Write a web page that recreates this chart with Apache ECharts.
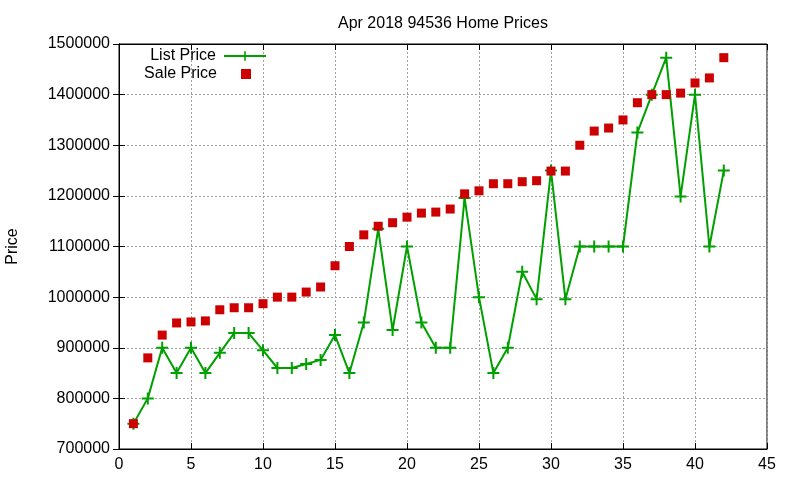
<!DOCTYPE html>
<html>
<head>
<meta charset="utf-8">
<script src="https://cdn.jsdelivr.net/npm/echarts@6/dist/echarts.min.js"></script>
<style>html,body{margin:0;padding:0;background:#fff}#c{width:800px;height:480px}</style>
</head>
<body>
<div id="c"></div>
<script>
var chartTitle = 'Apr 2018 94536 Home Prices';
var saleIndex = [1,2,3,4,5,6,7,8,9,10,11,12,13,14,15,16,17,18,19,20,21,22,23,24,25,26,27,28,29,30,31,32,33,34,35,36,37,38,39,40,41,42];
var listPrice = [750000,800000,900000,850000,900000,850000,890000,929000,929000,895000,860000,860000,868000,876000,925000,850000,950000,1135000,935000,1100000,950000,900000,900000,1196000,1000000,850000,900000,1050000,996000,1250000,996000,1100000,1100000,1100000,1100000,1325000,1400000,1473000,1199000,1400000,1100000,1250000];
var salePrice = [750000,880000,925000,949000,951000,953000,975000,979000,979000,987000,1000000,1000000,1010000,1020000,1062000,1100000,1123000,1140000,1147000,1158000,1166000,1168000,1174000,1204000,1210000,1224000,1224000,1228000,1230000,1249000,1249000,1300000,1328000,1334000,1350000,1384000,1400000,1400000,1403000,1423000,1433000,1473000];
var xTicks = {min: 0, max: 45, interval: 5};
var yTicks = {min: 700000, max: 1500000, interval: 100000};

var FONT = 'Liberation Sans, Arial, sans-serif';
var GREEN = '#00a000';
var RED = '#cc0000';
var listData = saleIndex.map(function (x, i) { return [x, listPrice[i]]; });
var saleData = saleIndex.map(function (x, i) { return [x, salePrice[i]]; });
var plus = 'path://M5,0h2v5h5v2h-5v5h-2v-5h-5v-2h5z';
var legendSquare = 'path://M0,0h0.01v0.01h-0.01zM16,0h10v10h-10zM41.99,9.99h0.01v0.01h-0.01z';

function axisCommon(extra) {
  var o = {
    type: 'value',
    axisLine: {show: true, lineStyle: {color: '#000', width: 1}},
    axisTick: {show: true, inside: true, length: 6, lineStyle: {color: '#000'}},
    splitLine: {show: false},
    axisLabel: {show: false}
  };
  for (var k in extra) o[k] = extra[k];
  return o;
}

var chart = echarts.init(document.getElementById('c'), null, {renderer: 'canvas'});
chart.setOption({
  animation: false,
  backgroundColor: '#fff',
  textStyle: {fontFamily: FONT},
  title: {
    text: chartTitle,
    left: 333, top: 11,
    textStyle: {fontFamily: FONT, fontSize: 16, fontWeight: 'normal', color: '#000'}
  },
  legend: [
    {
      data: ['List Price'], right: 533, top: 48, align: 'right', orient: 'vertical',
      itemWidth: 42, itemHeight: 12, padding: 0,
      textStyle: {fontFamily: FONT, fontSize: 16, color: '#000', padding: [0, 3, 0, 0]}
    },
    {
      data: [{name: 'Sale Price', icon: legendSquare}], right: 533, top: 66, align: 'right', orient: 'vertical',
      itemWidth: 42, itemHeight: 10, padding: 0,
      textStyle: {fontFamily: FONT, fontSize: 16, color: '#000', padding: [0, 3, 0, 0]}
    }
  ],
  grid: {left: 119, right: 33, top: 44, bottom: 31, show: true, borderColor: '#000', borderWidth: 1, containLabel: false, outerBoundsMode: 'none'},
  xAxis: [
    axisCommon({
      min: xTicks.min, max: xTicks.max, interval: xTicks.interval, position: 'bottom',
      axisLabel: {show: true, margin: 8, fontFamily: FONT, fontSize: 16, color: '#000'},
      splitLine: {show: true, lineStyle: {color: '#a0a0a0', type: [2, 2], width: 1}}
    }),
    axisCommon({min: xTicks.min, max: xTicks.max, interval: xTicks.interval, position: 'top'})
  ],
  yAxis: [
    axisCommon({
      min: yTicks.min, max: yTicks.max, interval: yTicks.interval, position: 'left',
      name: 'Price', nameLocation: 'middle', nameRotate: 90, nameGap: 98,
      nameTextStyle: {fontFamily: FONT, fontSize: 16, color: '#000'},
      axisLabel: {show: true, margin: 9, fontFamily: FONT, fontSize: 16, color: '#000',
        formatter: function (v) { return String(v); }},
      splitLine: {show: true, lineStyle: {color: '#a0a0a0', type: [2, 2], width: 1}}
    }),
    axisCommon({min: yTicks.min, max: yTicks.max, interval: yTicks.interval, position: 'right'})
  ],
  series: [
    {
      name: 'List Price', type: 'line', xAxisIndex: 0, yAxisIndex: 0,
      data: listData, symbol: plus, symbolSize: 12, showSymbol: true,
      lineStyle: {color: GREEN, width: 2}, itemStyle: {color: GREEN, opacity: 1},
      z: 2
    },
    {
      name: 'Sale Price', type: 'scatter', xAxisIndex: 0, yAxisIndex: 0,
      data: saleData, symbol: 'rect', symbolSize: 9,
      itemStyle: {color: RED, opacity: 1}, z: 3
    }
  ]
});
</script>
</body>
</html>
